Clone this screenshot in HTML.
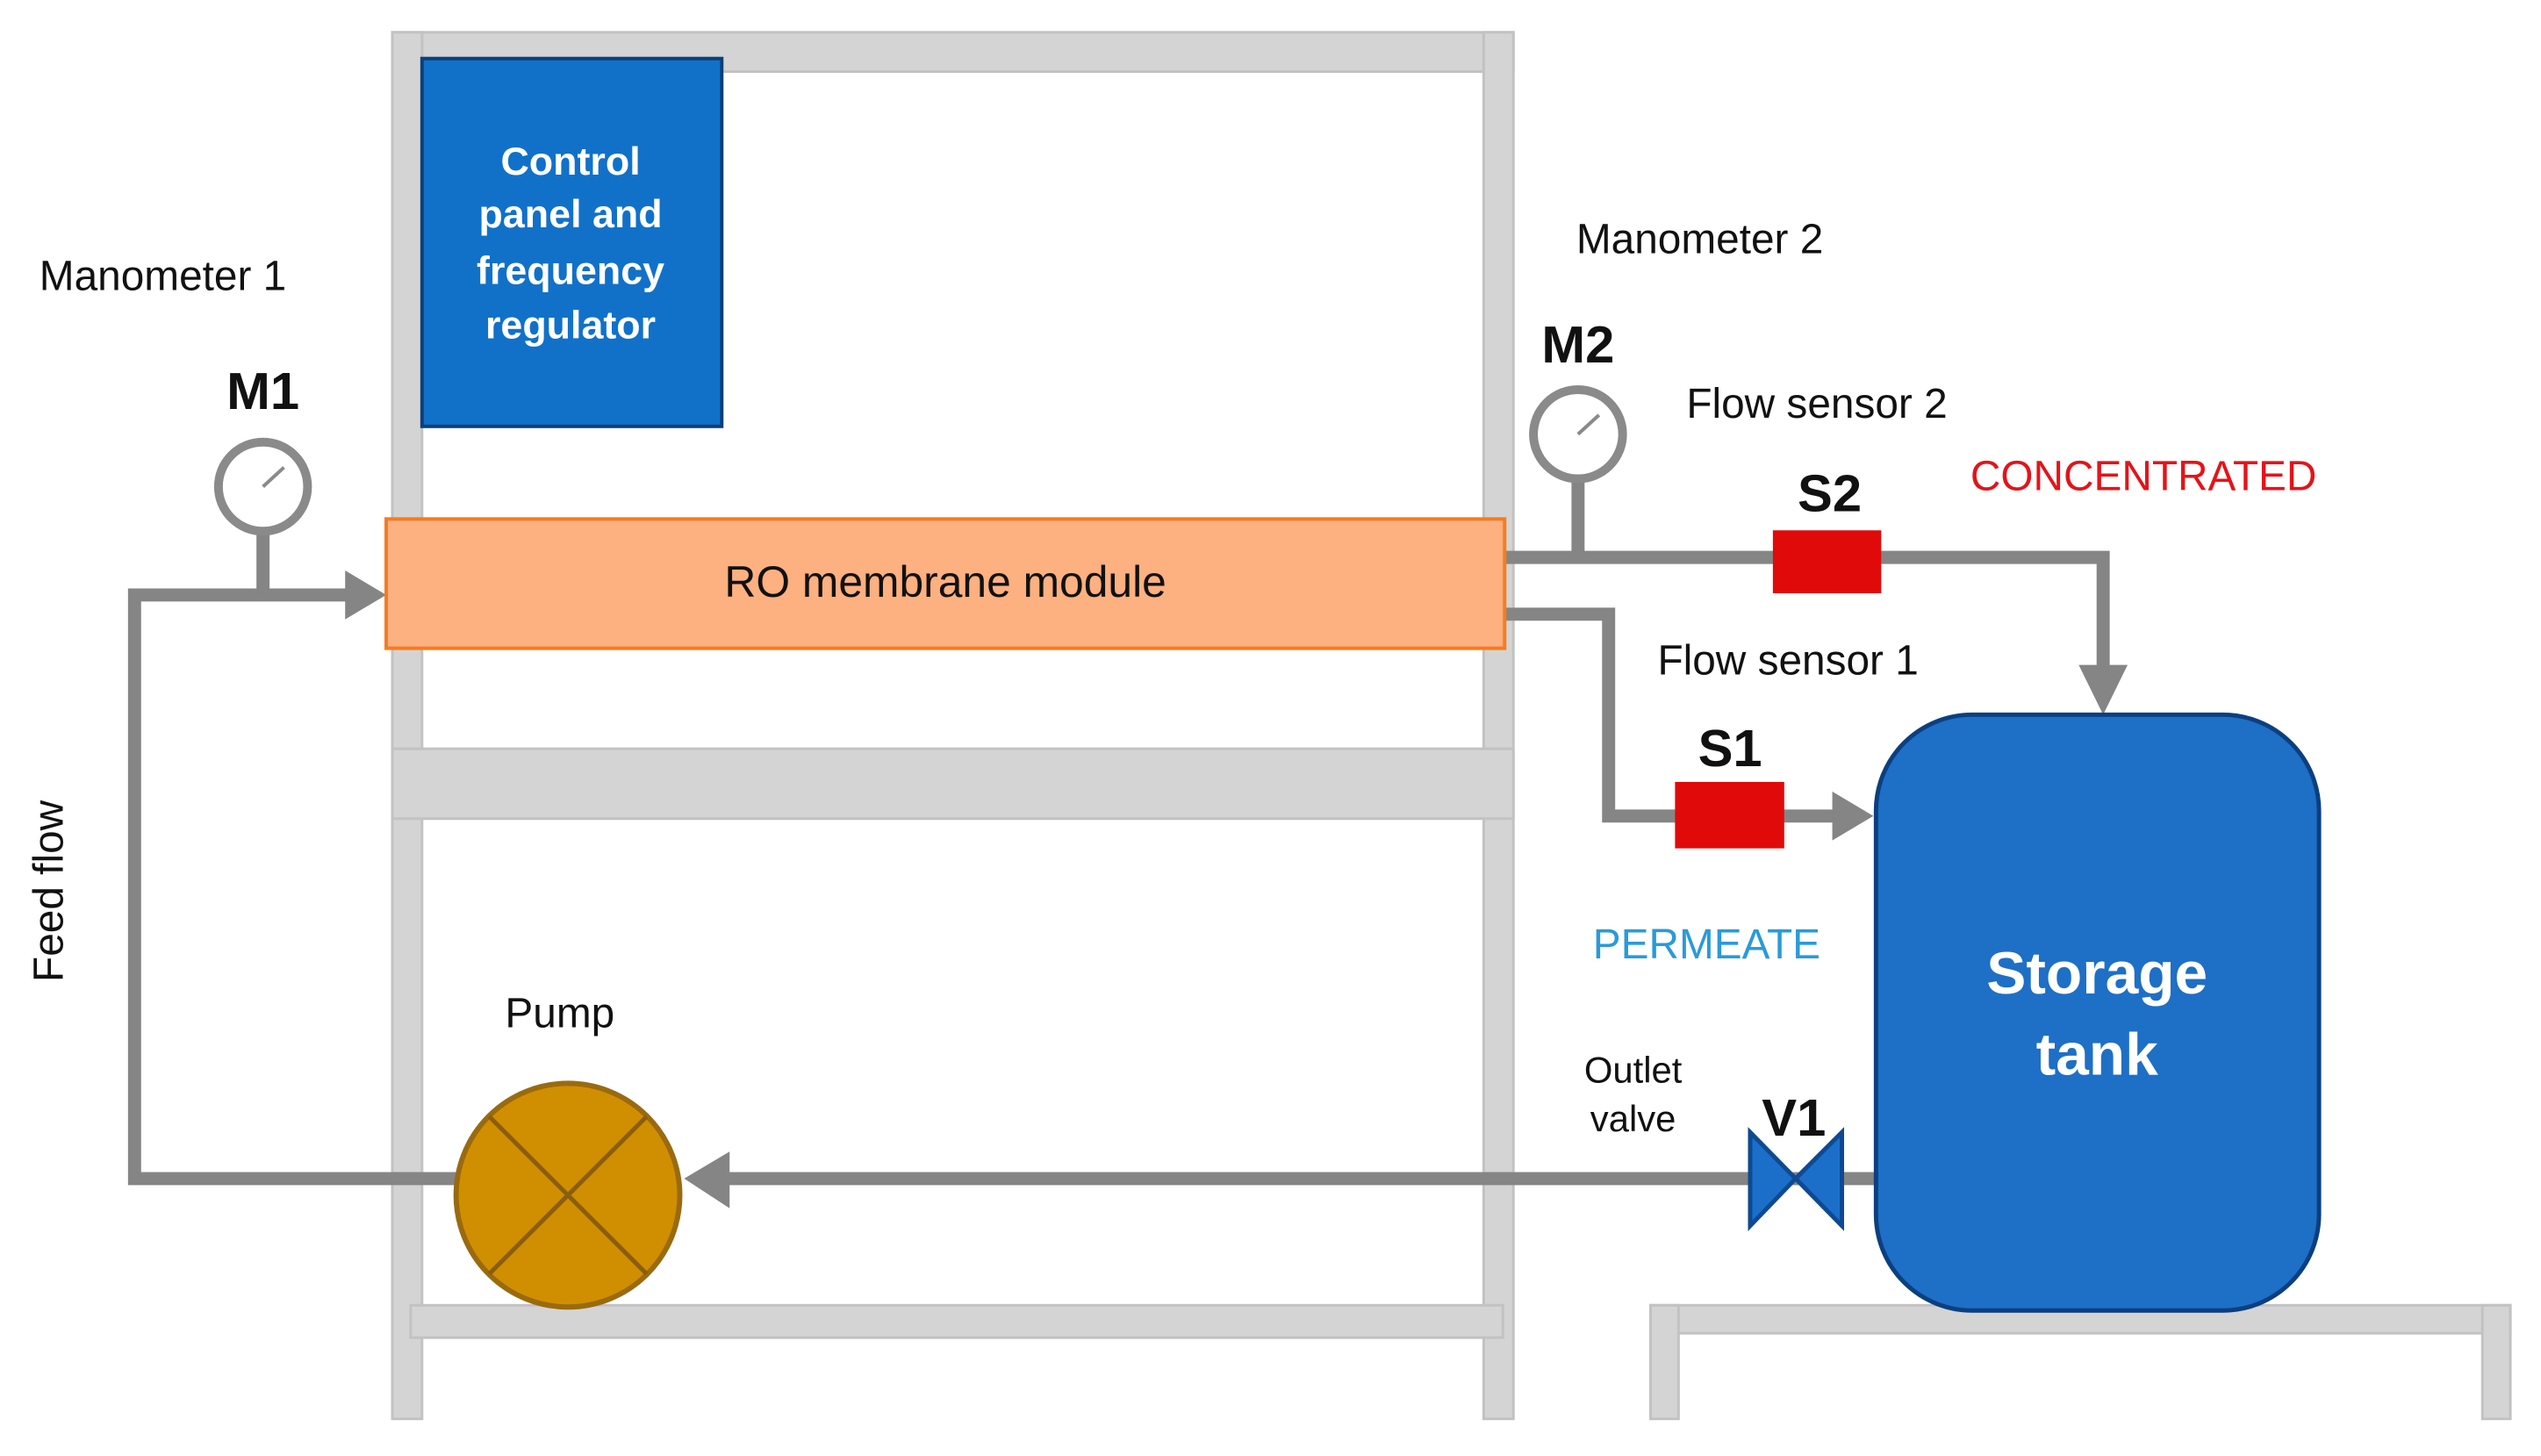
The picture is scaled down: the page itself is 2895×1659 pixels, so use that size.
<!DOCTYPE html>
<html><head><meta charset="utf-8"><style>
html,body{margin:0;padding:0;background:#fff;}
svg{display:block;}
text{font-family:"Liberation Sans",sans-serif;}
</style></head><body>
<svg width="2895" height="1659" viewBox="0 0 2895 1659" xmlns="http://www.w3.org/2000/svg">
<g transform="scale(0.9955)">
<!-- frame -->
<g fill="#d4d4d4" stroke="#c2c2c2" stroke-width="3">
<rect x="449" y="37" width="1283" height="45"/>
<rect x="449" y="37" width="34" height="1587"/>
<rect x="1698" y="37" width="34" height="1587"/>
<rect x="449" y="857" width="1283" height="80"/>
<rect x="470" y="1494" width="1250" height="37"/>
<!-- tank stand -->
<rect x="1889" y="1494" width="984" height="32"/>
<rect x="1889" y="1494" width="32" height="130"/>
<rect x="2841" y="1494" width="32" height="130"/>
</g>
<!-- control panel -->
<rect x="483" y="67" width="343" height="421" fill="#1171c9" stroke="#0d3f7a" stroke-width="4"/>
<g fill="#fff" font-weight="bold" font-size="45" text-anchor="middle">
<text x="653" y="200">Control</text>
<text x="653" y="260">panel and</text>
<text x="653" y="325">frequency</text>
<text x="653" y="387">regulator</text>
</g>
<!-- pipes -->
<g fill="none" stroke="#858585" stroke-width="15">
<polyline points="400,681 154,681 154,1349 530,1349"/>
<line x1="830" y1="1349" x2="2147" y2="1349"/>
<polyline points="1722,638 2407,638 2407,770"/>
<polyline points="1722,703 1841,703 1841,934 2100,934"/>
<line x1="301" y1="600" x2="301" y2="681"/>
<line x1="1806" y1="545" x2="1806" y2="638"/>
</g>
<g fill="#858585">
<polygon points="395,653 442,681 395,709"/>
<polygon points="783,1349 835,1318 835,1383"/>
<polygon points="2379,761 2435,761 2407,818"/>
<polygon points="2097,906 2144,934 2097,962"/>
</g>
<!-- RO module -->
<rect x="442" y="594" width="1280" height="148" fill="#fdb080" stroke="#f57c20" stroke-width="4"/>
<text x="1082" y="683" font-size="50" text-anchor="middle" fill="#111">RO membrane module</text>
<!-- gauges -->
<g fill="#fff" stroke="#8a8a8a" stroke-width="10">
<circle cx="301" cy="557" r="51"/>
<circle cx="1806" cy="497" r="51"/>
</g>
<g stroke="#8a8a8a" stroke-width="4">
<line x1="301" y1="557" x2="325" y2="535"/>
<line x1="1806" y1="497" x2="1830" y2="475"/>
</g>
<!-- sensors -->
<rect x="2029" y="607" width="124" height="72" fill="#e00a0a"/>
<rect x="1917" y="895" width="125" height="76" fill="#e00a0a"/>
<!-- pump -->
<circle cx="650" cy="1368" r="128" fill="#cf8f00" stroke="#9a6a10" stroke-width="6"/>
<g stroke="#8a5e10" stroke-width="5">
<line x1="560" y1="1278" x2="740" y2="1458"/>
<line x1="740" y1="1278" x2="560" y2="1458"/>
</g>
<!-- valve -->
<polygon points="2003,1296 2055,1349 2003,1403" fill="#1b6fc8" stroke="#0e4a92" stroke-width="5"/>
<polygon points="2108,1296 2055,1349 2108,1403" fill="#1b6fc8" stroke="#0e4a92" stroke-width="5"/>
<!-- tank -->
<rect x="2147" y="818" width="507" height="682" rx="110" ry="110" fill="#1e6fc6" stroke="#0c3f80" stroke-width="5"/>
<g fill="#fff" font-weight="bold" font-size="68" text-anchor="middle">
<text x="2400" y="1137">Storage</text>
<text x="2400" y="1230">tank</text>
</g>
<!-- labels -->
<g font-size="48" fill="#111">
<text x="45" y="332">Manometer 1</text>
<text x="1804" y="290">Manometer 2</text>
<text x="1930" y="478">Flow sensor 2</text>
<text x="1897" y="772">Flow sensor 1</text>
<text x="578" y="1176">Pump</text>
<text x="2255" y="561" fill="#e3141a">CONCENTRATED</text>
<text x="1823" y="1097" fill="#2b9ad8">PERMEATE</text>
</g>
<g font-size="42" fill="#111" text-anchor="middle">
<text x="1869" y="1239">Outlet</text>
<text x="1869" y="1295">valve</text>
</g>
<text transform="translate(72,1020) rotate(-90)" font-size="48" text-anchor="middle" fill="#111">Feed flow</text>
<g font-weight="bold" font-size="60" fill="#111" text-anchor="middle" font-family="Liberation Sans Narrow, Liberation Sans, sans-serif">
<text x="301" y="468">M1</text>
<text x="1806" y="415">M2</text>
<text x="2094" y="585">S2</text>
<text x="1980" y="877">S1</text>
<text x="2053" y="1300">V1</text>
</g>
</g>
</svg>
</body></html>
